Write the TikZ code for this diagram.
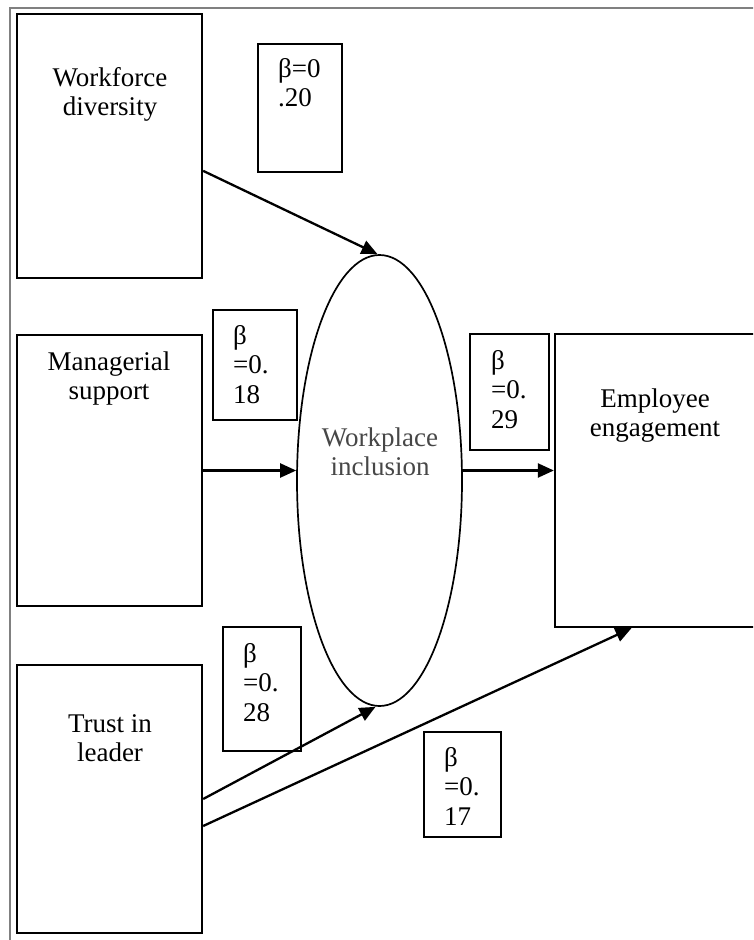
\documentclass[tikz,border=0pt]{standalone}
\usepackage{fontspec}
\setmainfont{Liberation Serif}
\usetikzlibrary{arrows.meta,shapes.geometric,calc}
\newcommand\mylines[2]{\begin{tabular}[t]{@{}#1@{}}#2\end{tabular}}
\begin{document}
\begin{tikzpicture}[x=1pt,y=-1pt,
  every node/.style={font=\fontsize{27}{29.5}\selectfont},
  mainbox/.style={draw=black,line width=2.3pt,inner sep=0pt},
  betabox/.style={draw=black,line width=1.9pt,inner sep=0pt},
  txt/.style={inner sep=0pt,anchor=base},
  link/.style={line width=2.3pt,-{Triangle[length=16pt,width=14pt]}}]
\useasboundingbox (0,0) rectangle (753,940);
\clip (0,0) rectangle (753,940);
\fill[white] (0,0) rectangle (753,940);
% outer frame
\draw[gray,line width=2.2pt] (10,940) -- (10,8) -- (760,8);
% main boxes
\node[mainbox,minimum width=185pt,minimum height=264pt] (WD) at (109.5,146) {};
\node[mainbox,minimum width=185pt,minimum height=271pt] (MS) at (109.5,470.5) {};
\node[mainbox,minimum width=185pt,minimum height=268pt] (TL) at (109.5,799) {};
\node[mainbox,minimum width=201pt,minimum height=293pt] (EE) at (655.5,480.5) {};
\node[ellipse,draw=black,line width=1.7pt,inner sep=0pt,minimum width=165pt,minimum height=451pt] (ell) at (379.5,480.5) {};
% beta boxes
\node[betabox,minimum width=84pt,minimum height=128pt] (b1) at (300,108) {};
\node[betabox,minimum width=84pt,minimum height=110pt] (b2) at (255,365) {};
\node[betabox,minimum width=79pt,minimum height=116pt] (b3) at (509.5,392) {};
\node[betabox,minimum width=78pt,minimum height=124pt] (b4) at (262,689) {};
\node[betabox,minimum width=77pt,minimum height=105pt] (b5) at (462.5,784.5) {};
% texts
\node[txt] (tWD) at (110,86) {\mylines{c}{Workforce\\diversity}};
\node[txt] (tMS) at (109,370) {\mylines{c}{Managerial\\support}};
\node[txt] (tTL) at (110,732) {\mylines{c}{Trust in\\leader}};
\node[txt] (tEE) at (655,407) {\mylines{c}{Employee\\engagement}};
\node[txt,text=black!72] (tWI) at (380,446) {\mylines{c}{Workplace\\inclusion}};
\node[txt,anchor=base west] (t1) at (278,77) {\mylines{l}{β=0\\.20}};
\node[txt,anchor=base west] (t2) at (233,344) {\mylines{l}{β\\=0.\\18}};
\node[txt,anchor=base west] (t3) at (491,369) {\mylines{l}{β\\=0.\\29}};
\node[txt,anchor=base west] (t4) at (243,662) {\mylines{l}{β\\=0.\\28}};
\node[txt,anchor=base west] (t5) at (444,766) {\mylines{l}{β\\=0.\\17}};
% connectors
\draw[link] ([yshift=-158pt]WD.north east) -- ([xshift=-2pt]ell.north);
\draw[link] (MS.east) -- (MS.east -| ell.west);
\draw[link] (ell.east |- MS.east) -- (EE.west |- MS.east);
\draw[link] (TL.east) -- ([xshift=-4pt]ell.south);
\draw[link] ([yshift=-27pt]TL.east) -- ([xshift=-24pt]EE.south);
\end{tikzpicture}
\end{document}
